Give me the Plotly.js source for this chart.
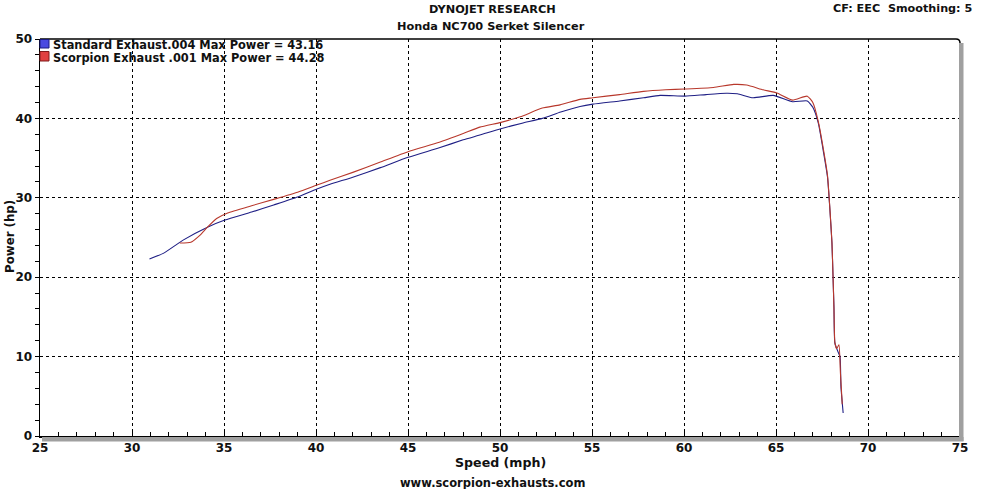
<!DOCTYPE html>
<html><head><meta charset="utf-8">
<script src="https://cdn.plot.ly/plotly-3.0.1.min.js"></script>
<style>html,body{margin:0;padding:0;background:#fff}</style>
</head><body><div id="chart" style="width:984px;height:489px"></div>
<script>
const standardSpeed = [30.95,31.7,32.8,34.1,35.05,36.5,37.7,39.0,40.05,40.76,42.0,43.5,45.0,46.7,48.0,48.9,50.05,51.2,52.3,53.3,54.35,55.05,56.5,57.8,58.7,60.05,61.2,62.3,62.9,63.75,64.85,65.9,66.7,67.0,67.3,67.6,67.8,67.93,68.04,68.1,68.15,68.2,68.37,68.48,68.53,68.65];
const standardPower = [22.3,23.0,24.7,26.3,27.2,28.2,29.1,30.1,31.1,31.7,32.6,33.8,35.1,36.3,37.3,37.9,38.7,39.4,40.0,40.8,41.5,41.8,42.2,42.6,42.9,42.8,43.0,43.16,43.1,42.6,42.9,42.1,42.2,41.4,39.4,35.5,32.6,28.5,24.3,20.0,16.2,11.7,10.6,10.0,6.2,2.9];
const scorpionSpeed = [32.6,33.2,33.7,34.1,34.6,35.2,36.5,37.7,39.0,40.05,40.76,42.0,43.5,45.0,46.7,48.0,48.9,50.05,51.1,52.3,53.26,54.35,55.05,56.5,57.8,59.0,60.05,61.6,62.7,63.4,64.3,65.05,65.9,66.7,67.0,67.3,67.6,67.8,67.93,68.04,68.1,68.15,68.2,68.3,68.42,68.5,68.6];
const scorpionPower = [24.3,24.4,25.3,26.3,27.4,28.1,29.0,29.8,30.7,31.6,32.2,33.2,34.5,35.8,37.0,38.1,38.9,39.5,40.2,41.3,41.7,42.4,42.6,43.0,43.4,43.6,43.7,43.9,44.28,44.2,43.6,43.2,42.3,42.8,42.0,39.6,35.8,32.8,28.6,24.4,20.1,16.0,11.8,11.0,11.5,8.0,4.0];
const xTickVals = [25,30,35,40,45,50,55,60,65,70,75];
const yTickVals = [0,10,20,30,40,50];
const legendLabels = ["Standard Exhaust.004 Max Power = 43.16","Scorpion Exhaust .001 Max Power = 44.28"];

const W=984,H=489,L=40,R=960,T=39,B=436;
const px=p=>(p-L)/(R-L);
const py=p=>(B-p)/(B-T);
const FONT="DejaVu Sans";
const txt=(text,x,y,size,opts)=>Object.assign({text:text,xref:'paper',yref:'paper',x:px(x),y:py(y),showarrow:false,xanchor:'center',yanchor:'middle',borderpad:0,font:{family:FONT,size:size,color:'#111',weight:'bold'}},opts||{});

const traces=[
 {x:standardSpeed,y:standardPower,type:'scatter',mode:'lines',line:{color:'#1f1f85',width:1.1,shape:'spline',smoothing:0.5},hoverinfo:'skip'},
 {x:scorpionSpeed,y:scorpionPower,type:'scatter',mode:'lines',line:{color:'#b8382c',width:1.1,shape:'spline',smoothing:0.5},hoverinfo:'skip'}
];
const layout={
 width:W,height:H,margin:{l:L,r:W-R,t:T,b:H-B},
 paper_bgcolor:'#fff',plot_bgcolor:'#fff',showlegend:false,
 xaxis:{range:[25,75],tickvals:xTickVals,ticks:'inside',ticklen:4,tickcolor:'#000',
   minor:{dtick:1,tick0:25,ticks:'inside',ticklen:4,tickcolor:'#000',showgrid:false},
   showgrid:true,gridcolor:'#000',griddash:'3px,3px',gridwidth:1,zeroline:false,
   showline:true,linecolor:'#000',linewidth:2,
   tickfont:{family:FONT,size:12,color:'#111',weight:'bold'}},
 yaxis:{range:[0,50],tickvals:yTickVals,ticks:'outside',ticklen:4,tickcolor:'#000',
   minor:{dtick:2,tick0:0,ticks:'outside',ticklen:4,tickcolor:'#000',showgrid:false},
   showgrid:true,gridcolor:'#000',griddash:'3px,3px',gridwidth:1,zeroline:false,
   showline:true,linecolor:'#000',linewidth:1.5,
   tickfont:{family:FONT,size:12,color:'#111',weight:'bold'}},
 yaxis2:{range:[0,50],overlaying:'y',side:'left',showgrid:false,zeroline:false,showticklabels:false,
   dtick:2,tick0:0,ticks:'inside',ticklen:3,tickcolor:'#000',showline:false},
 shapes:[
  {type:'line',xref:'paper',yref:'paper',x0:0,x1:px(956),y0:1,y1:1,line:{color:'#000',width:1.5},layer:'above'},
  {type:'path',xref:'paper',yref:'paper',path:`M ${px(956)},1 Q ${px(960)},1 ${px(960)},${py(43)}`,line:{color:'#000',width:1.5},layer:'above'},
  {type:'rect',xref:'paper',yref:'paper',x0:px(959),x1:px(963.5),y0:py(441),y1:py(43),fillcolor:'#a0a0a0',line:{width:0},layer:'above'},
  {type:'rect',xref:'paper',yref:'paper',x0:px(42),x1:px(963.5),y0:py(441.5),y1:py(437),fillcolor:'#a0a0a0',line:{width:0},layer:'above'},
  {type:'rect',xref:'paper',yref:'paper',x0:px(40),x1:px(49),y0:py(48),y1:py(39.5),fillcolor:'#4a4ae0',line:{color:'#1a1a80',width:1},layer:'above'},
  {type:'rect',xref:'paper',yref:'paper',x0:px(40),x1:px(49),y0:py(61),y1:py(51.5),fillcolor:'#e04040',line:{color:'#801a1a',width:1},layer:'above'}
 ],
 annotations:[
  txt('DYNOJET RESEARCH',492,10,11.3),
  txt('Honda NC700 Serket Silencer',491,26,11.3),
  txt('CF: EEC\u00a0 Smoothing: 5',973,8,11.2,{xanchor:'right'}),
  txt(legendLabels[0],52,45,11.4,{xanchor:'left'}),
  txt(legendLabels[1],52,58,11.4,{xanchor:'left'}),
  txt('Speed (mph)',500,463,12.6),
  txt('Power (hp)',10,237,11.8,{textangle:-90}),
  txt('www.scorpion-exhausts.com',492,483,11.5)
 ]
};
Plotly.newPlot('chart',traces,layout,{staticPlot:true,displayModeBar:false});
</script></body></html>
